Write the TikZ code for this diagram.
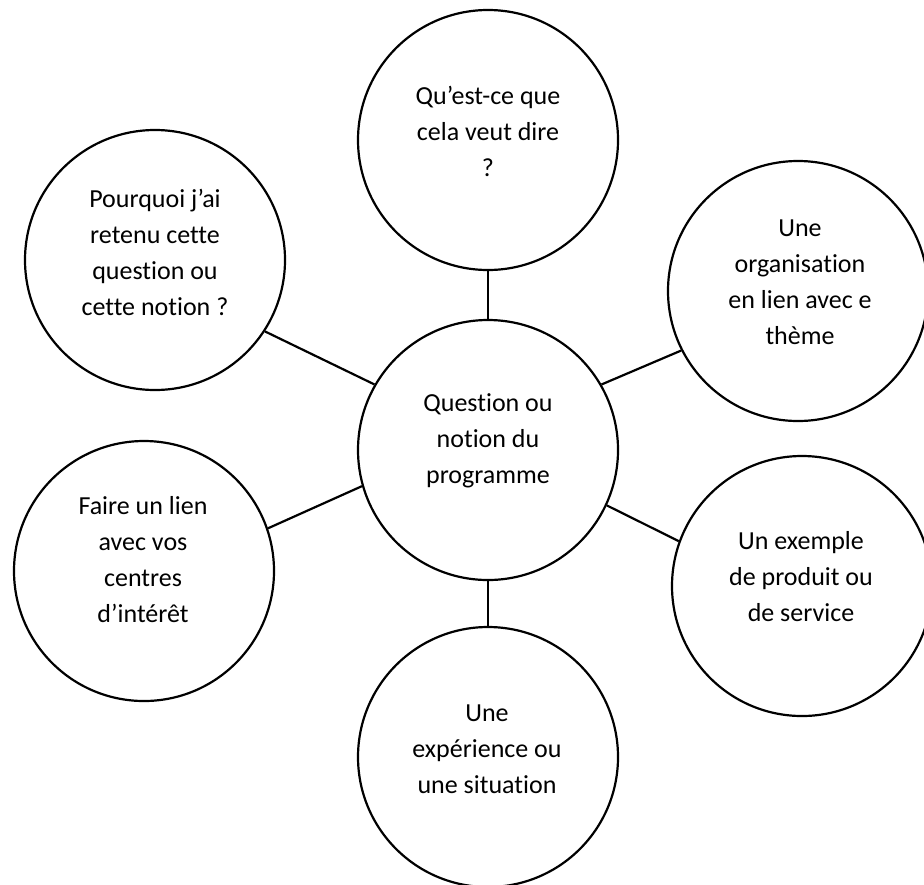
\documentclass[tikz,border=0pt]{standalone}
\usepackage{fontspec}
\setmainfont{Carlito}[Ligatures=NoCommon]
\begin{document}
\begin{tikzpicture}[x=0.5pt,y=-0.5pt,
  bubble/.style={circle,draw=black,line width=1.1pt,minimum size=130pt,inner sep=0pt},
  txt/.style={align=center,inner sep=0pt,font=\fontsize{13}{18}\selectfont},
  link/.style={draw=black,line width=1.1pt}]
\useasboundingbox[fill=white] (0,0) rectangle (924,884);
\node[bubble] (c)  at (488,450) {};
\node[bubble] (t)  at (488,140) {};
\node[bubble] (tl) at (155,260) {};
\node[bubble] (rt) at (798,291) {};
\node[bubble] (bl) at (144,571) {};
\node[bubble] (rb) at (802,586) {};
\node[bubble] (b)  at (488,757) {};
\node[txt] (ct)  at (488,441) {Question ou\\notion du\\programme};
\node[txt] (tt)  at (488,131) {Qu’est-ce que\\cela veut dire\\?};
\node[txt] (tlt) at (155,252) {Pourquoi j’ai\\retenu cette\\question ou\\cette notion ?};
\node[txt] (rtt) at (800,282) {Une\\organisation\\en lien avec e\\thème};
\node[txt] (blt) at (143,560) {Faire un lien\\avec vos\\centres\\d’intérêt};
\node[txt] (rbt) at (801,577) {Un exemple\\de produit ou\\de service};
\node[txt] (bt)  at (487,749) {Une\\expérience ou\\une situation};
\draw[link] (c.90) -- (t.-90);
\draw[link] (c.-90) -- (b.90);
\draw[link] (c.150.5) -- (tl.-33.2);
\draw[link] (c.30.7) -- (rt.207.2);
\draw[link] (c.196.9) -- (bl.19.4);
\draw[link] (c.-25) -- (rb.160.2);
\end{tikzpicture}
\end{document}
